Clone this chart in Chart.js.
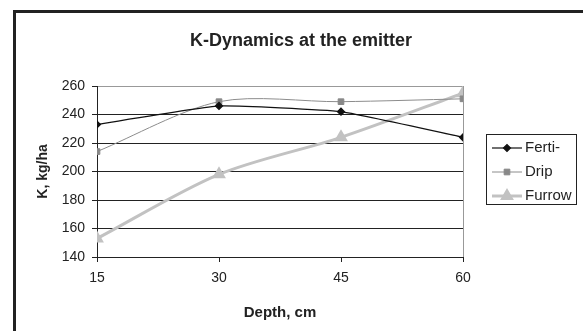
<!DOCTYPE html>
<html lang="en">
<head>
    <meta charset="UTF-8">
    <title>K-Dynamics at the emitter</title>
    <script src="https://cdn.jsdelivr.net/npm/chart.js"></script>
    <style>
        body {
            margin: 0;
            padding: 0;
            background: #fff;
            font-family: "Liberation Sans", Arial, sans-serif;
        }
        .frame {
            position: absolute;
            left: 13px;
            top: 10px;
            width: 700px;
            height: 500px;
            border: 3px solid #222;
        }
        canvas {
            position: absolute;
            left: 0;
            top: 0;
        }
    </style>
</head>
<body>
    <div class="frame"></div>
    <canvas id="chart" width="583" height="331"></canvas>

    <script>
        // values
        var depths = [15, 30, 45, 60];
        var ferti = [233, 246, 242, 224];
        var drip = [214, 249, 249, 251];
        var furrow = [153, 198, 224, 255];
        var yTicks = [140, 160, 180, 200, 220, 240, 260];

        function points(vals) {
            return depths.map(function (d, i) { return { x: d, y: vals[i] }; });
        }

        var FONT = '"Liberation Sans", Arial, sans-serif';

        // title centred on the whole frame + Excel-style boxed legend at the right
        var frameText = {
            id: 'frameText',
            afterDraw: function (chart) {
                var ctx = chart.ctx;
                ctx.save();
                ctx.fillStyle = '#222';
                ctx.font = 'bold 18px ' + FONT;
                ctx.textAlign = 'center';
                ctx.textBaseline = 'middle';
                ctx.fillText('K-Dynamics at the emitter', 301, 41);

                ctx.strokeStyle = '#222';
                ctx.lineWidth = 1;
                ctx.strokeRect(486.5, 134.5, 90, 70);
                chart.data.datasets.forEach(function (ds, i) {
                    var y = 148 + i * 24;
                    ctx.strokeStyle = ds.borderColor;
                    ctx.lineWidth = ds.borderWidth;
                    ctx.beginPath();
                    ctx.moveTo(492, y);
                    ctx.lineTo(522, y);
                    ctx.stroke();
                    ctx.fillStyle = ds.pointBackgroundColor;
                    ctx.strokeStyle = ds.pointBorderColor;
                    Chart.helpers.drawPoint(ctx, {
                        pointStyle: ds.pointStyle,
                        radius: ds.pointRadius,
                        rotation: 0,
                        borderWidth: 1
                    }, 507, y);
                    ctx.fillStyle = '#222';
                    ctx.font = '15px ' + FONT;
                    ctx.textBaseline = 'middle';
                    ctx.textAlign = 'left';
                    ctx.fillText(ds.label, 525, y);
                });
                ctx.restore();
            }
        };

        new Chart(document.getElementById('chart').getContext('2d'), {
            type: 'line',
            data: {
                datasets: [{
                    label: 'Ferti-',
                    data: points(ferti),
                    borderColor: '#111',
                    borderWidth: 1.2,
                    pointStyle: 'rectRot',
                    pointRadius: 3.5,
                    pointBackgroundColor: '#111',
                    pointBorderColor: '#111',
                    tension: 0.12
                }, {
                    label: 'Drip',
                    data: points(drip),
                    borderColor: '#8c8c8c',
                    borderWidth: 1,
                    pointStyle: 'rect',
                    pointRadius: 4,
                    pointBackgroundColor: '#888',
                    pointBorderColor: '#888',
                    tension: 0.3
                }, {
                    label: 'Furrow',
                    data: points(furrow),
                    borderColor: '#c2c2c2',
                    borderWidth: 3,
                    pointStyle: 'triangle',
                    pointRadius: 5,
                    pointBackgroundColor: '#c2c2c2',
                    pointBorderColor: '#c2c2c2',
                    tension: 0.3
                }]
            },
            options: {
                responsive: false,
                animation: false,
                layout: { padding: { left: 0, right: 120, top: 86, bottom: 0 } },
                plugins: {
                    legend: { display: false },
                    tooltip: { enabled: false },
                    title: { display: false }
                },
                scales: {
                    x: {
                        type: 'linear',
                        min: 15,
                        max: 60,
                        afterFit: function (s) { s.height = 74; },
                        afterBuildTicks: function (s) {
                            s.ticks = depths.map(function (v) { return { value: v }; });
                        },
                        ticks: {
                            color: '#222',
                            font: { family: FONT, size: 14 },
                            padding: 8,
                            maxRotation: 0
                        },
                        grid: {
                            color: function (c) { return c.tick && c.tick.value === 60 ? '#999' : 'rgba(0,0,0,0)'; },
                            tickColor: '#222',
                            tickLength: 5
                        },
                        border: { color: '#222', width: 1 },
                        title: {
                            display: true,
                            text: 'Depth, cm',
                            color: '#222',
                            font: { family: FONT, size: 15, weight: 'bold' },
                            padding: { top: 0, bottom: 9 }
                        }
                    },
                    y: {
                        min: 140,
                        max: 260,
                        afterFit: function (s) { s.width = 97; },
                        afterBuildTicks: function (s) {
                            s.ticks = yTicks.map(function (v) { return { value: v }; });
                        },
                        ticks: {
                            color: '#222',
                            font: { family: FONT, size: 14 },
                            padding: 7
                        },
                        grid: {
                            color: function (c) { return c.tick && c.tick.value === 260 ? '#999' : '#222'; },
                            tickColor: '#222',
                            tickLength: 5
                        },
                        border: { color: '#222', width: 1 },
                        title: {
                            display: true,
                            text: 'K, kg/ha',
                            color: '#222',
                            font: { family: FONT, size: 14, weight: 'bold' },
                            padding: { top: 35, bottom: 0 }
                        }
                    }
                }
            },
            plugins: [frameText]
        });
    </script>
</body>
</html>
